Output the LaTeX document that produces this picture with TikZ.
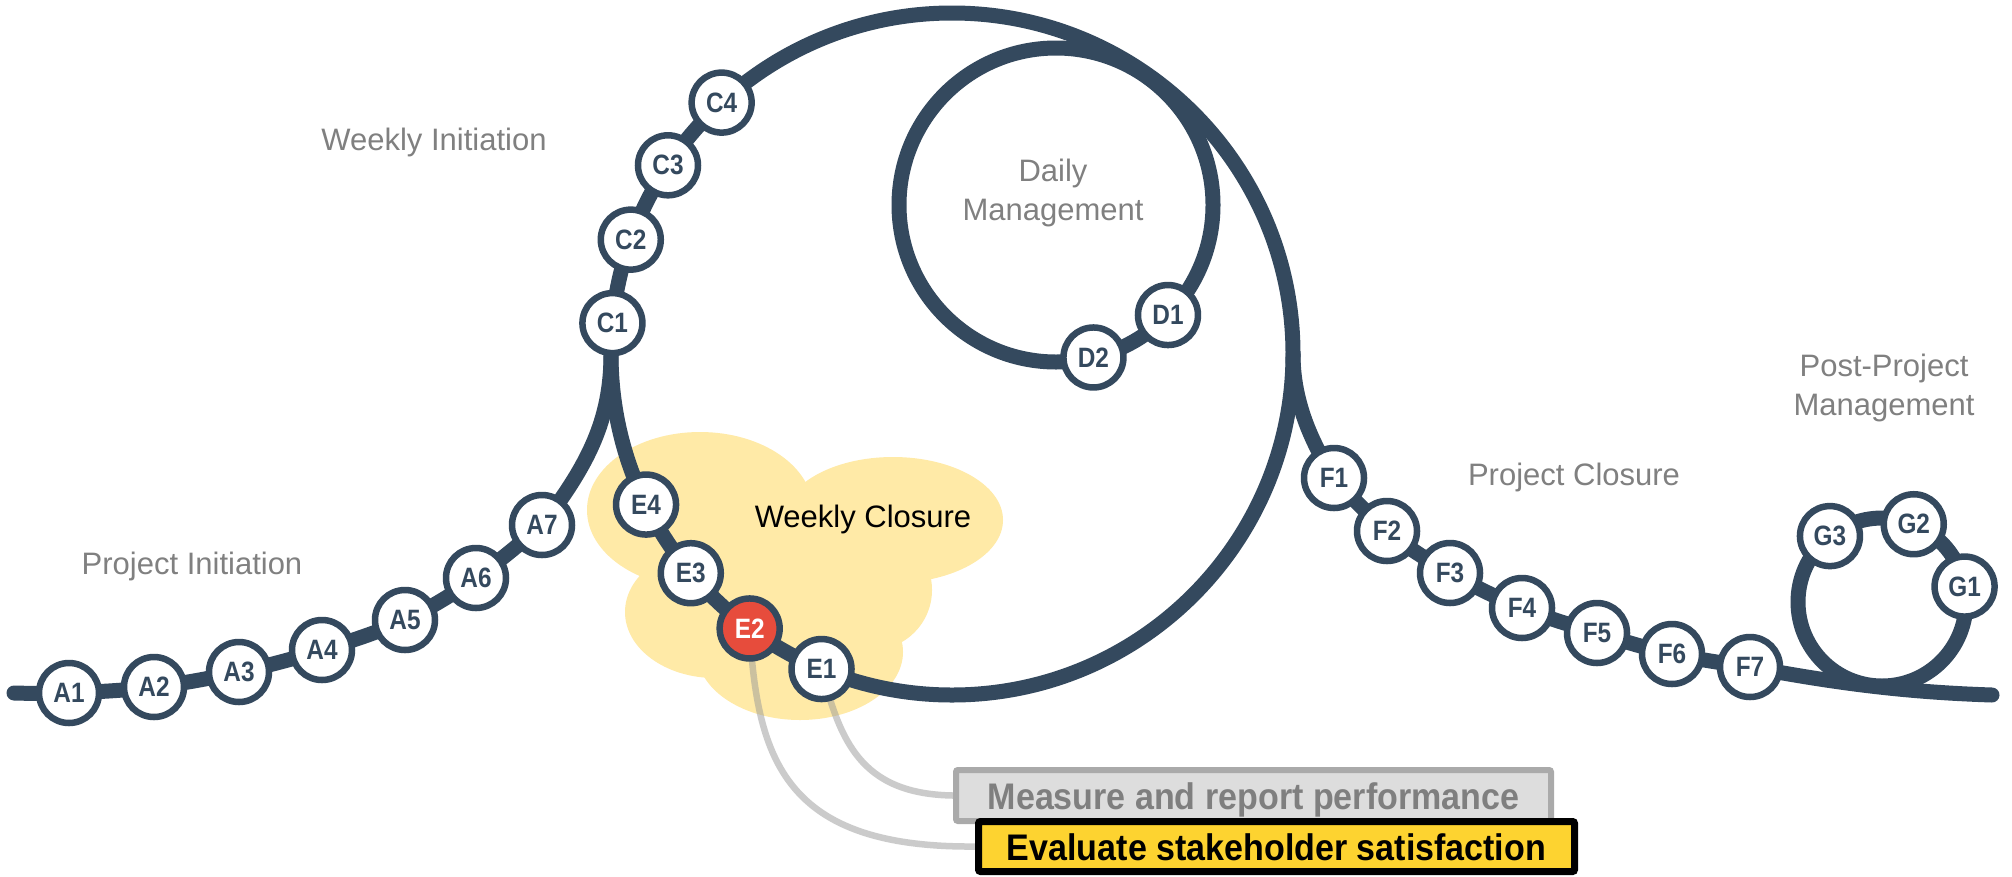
\documentclass[tikz,border=0pt]{standalone}
\usepackage{fontspec}
\setmainfont{Liberation Sans}
\newfontfamily\condfont[FakeStretch=0.87]{Liberation Sans}
\newfontfamily\boxfont[FakeStretch=0.92]{Liberation Sans}
\definecolor{navy}{HTML}{34495E}
\definecolor{redstn}{HTML}{E74C3C}
\definecolor{cloudy}{HTML}{FFEAA7}
\definecolor{lblgray}{HTML}{808080}
\definecolor{evalfill}{HTML}{FDD330}
\definecolor{measfill}{HTML}{DDDDDD}
\definecolor{measborder}{HTML}{AAAAAA}
\definecolor{meastext}{HTML}{7F7F7F}
\pgfdeclarelayer{cloudlayer}
\pgfdeclarelayer{leaderlayer}
\pgfdeclarelayer{tracklayer}
\pgfsetlayers{cloudlayer,leaderlayer,tracklayer,main}
\begin{document}
\begin{tikzpicture}[x=1pt,y=-1pt,
  stn/.style={circle, draw=navy, line width=6.5pt, fill=white, minimum size=60pt, inner sep=0pt,
    font=\condfont\bfseries\fontsize{28}{28}\selectfont, text=navy},
  hot/.style={stn, fill=redstn, text=white},
  track/.style={draw=navy, line width=15pt, line cap=round, line join=round},
  phase/.style={font=\fontsize{31}{39}\selectfont, text=lblgray, align=center, inner sep=0pt},
  leader/.style={draw=black!40, draw opacity=0.5, line width=6.5pt},
  measbox/.style={draw=measborder, line width=6pt, fill=measfill, text=meastext, rounded corners=2pt,
    font=\boxfont\bfseries\fontsize{37}{37}\selectfont, minimum width=595pt, minimum height=51pt, inner sep=0pt,
    text height=27pt, text depth=0pt},
  evalbox/.style={draw=black, line width=7pt, fill=evalfill, text=black, rounded corners=2pt,
    font=\boxfont\bfseries\fontsize{37}{37}\selectfont, minimum width=596pt, minimum height=50pt, inner sep=0pt,
    text height=27pt, text depth=0pt}
]
\useasboundingbox (0,0) rectangle (2012,876);
\begin{pgfonlayer}{cloudlayer}
  \fill[white] (0,0) rectangle (2012,876);
  \fill[cloudy] (700,510) ellipse [x radius=113, y radius=78];
  \fill[cloudy] (893,520) ellipse [x radius=110, y radius=63];
  \fill[cloudy] (715,612) ellipse [x radius=90, y radius=66];
  \fill[cloudy] (800,652) ellipse [x radius=103, y radius=68];
  \fill[cloudy] (872,590) circle [radius=60];
  \fill[cloudy] (790,580) ellipse [x radius=90, y radius=60];
\end{pgfonlayer}

% reference points of the track
\coordinate (O) at (952,354);
\coordinate (Oi) at (1056,205);
\coordinate (Og) at (1882,602);
\coordinate (start) at (14,693);
\coordinate (cusp) at ([shift={(952,354)}]180:341);
\coordinate (exit) at ([shift={(952,354)}]0:341);
\coordinate (trackend) at (1992,695);

% stations
\node[stn] (A1) at (69,693) {A1};
\node[stn] (A2) at (154,687) {A2};
\node[stn] (A3) at (239,672) {A3};
\node[stn] (A4) at (322,650) {A4};
\node[stn] (A5) at (405,620) {A5};
\node[stn] (A6) at (476,578) {A6};
\node[stn] (A7) at (542,525) {A7};

\node[stn] (C1) at ([shift={(952,354)}]185.2:341) {C1};
\node[stn] (C2) at ([shift={(952,354)}]199.6:341) {C2};
\node[stn] (C3) at ([shift={(952,354)}]213.6:341) {C3};
\node[stn] (C4) at ([shift={(952,354)}]227.5:341) {C4};

\node[stn] (D1) at ([shift={(1056,205)}]44.5:157) {D1};
\node[stn] (D2) at ([shift={(1056,205)}]76.2:157) {D2};

\node[stn] (E1) at ([shift={(952,354)}]112.5:341) {E1};
\node[hot] (E2) at ([shift={(952,354)}]126.4:341) {E2};
\node[stn] (E3) at ([shift={(952,354)}]140:341) {E3};
\node[stn] (E4) at ([shift={(952,354)}]153.8:341) {E4};

\node[stn] (F1) at (1334,478) {F1};
\node[stn] (F2) at (1387,531) {F2};
\node[stn] (F3) at (1450,573) {F3};
\node[stn] (F4) at (1522,608) {F4};
\node[stn] (F5) at (1597,633) {F5};
\node[stn] (F6) at (1672,654) {F6};
\node[stn] (F7) at (1750,667) {F7};

\node[stn] (G1) at ([shift={(1882,602)}]349.4:84) {G1};
\node[stn] (G2) at ([shift={(1882,602)}]292.2:84) {G2};
\node[stn] (G3) at ([shift={(1882,602)}]231.7:84) {G3};

% phase labels
\node[phase, anchor=base] (lPI) at (192,574) {Project Initiation};
\node[phase, anchor=base] (lWI) at (434,150) {Weekly Initiation};
\node[phase] (lDM) at (1053,193) {Daily\\Management};
\node[phase, anchor=base] (lPC) at (1574,485) {Project Closure};
\node[phase] (lPPM) at (1884,388) {Post-Project\\Management};
\node[font=\fontsize{31}{39}\selectfont, text=black, inner sep=0pt, anchor=base] (lWC) at (863,527) {Weekly Closure};

% task boxes
\node[measbox] (Meas) at (1253.5,795.5) {Measure and report performance};
\node[evalbox] (Eval) at (1276.5,846.5) {Evaluate stakeholder satisfaction};

\begin{pgfonlayer}{leaderlayer}
  \draw[leader] (E2.center) .. controls (757,760) and (785,848) .. (Eval.west);
  \draw[leader] (E1.center) .. controls (840,740) and (860,794) .. (Meas.west);
\end{pgfonlayer}

\begin{pgfonlayer}{tracklayer}
  \draw[track] plot[smooth, tension=0.6] coordinates {(start) (A1.center) (A2.center) (A3.center) (A4.center) (A5.center) (A6.center) (A7.center)};
  \draw[track] (A7.center) .. controls (588,465) and (611,420) .. (cusp);
  \draw[track] (O) circle [radius=341];
  \draw[track] (Oi) circle [radius=157];
  \draw[track] (exit) .. controls (1293,400) and (1310,440) .. (F1.center);
  \draw[track] plot[smooth, tension=0.6] coordinates {(F1.center) (F2.center) (F3.center) (F4.center) (F5.center) (F6.center) (F7.center)};
  \draw[track] (F7.center) .. controls (1830,682) and (1900,692) .. (trackend);
  \draw[track] (Og) circle [radius=84];
\end{pgfonlayer}
\end{tikzpicture}
\end{document}
